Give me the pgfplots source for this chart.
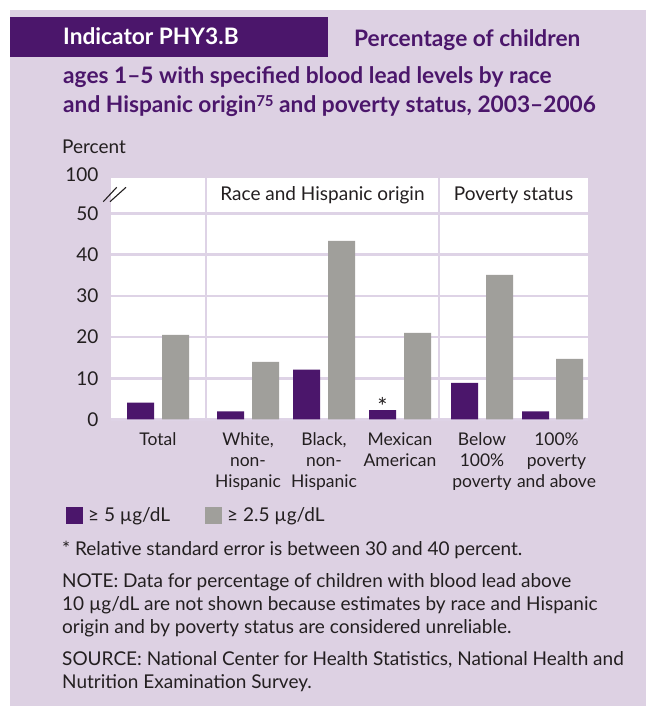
\documentclass[border=0pt]{standalone}
\usepackage{fontspec}
\setmainfont{Lato}
\usepackage{pgfplots}
\pgfplotsset{compat=1.18}

\definecolor{bg}{RGB}{221,209,227}
\definecolor{dpurple}{RGB}{75,22,107}
\definecolor{bargray}{RGB}{160,159,155}
\definecolor{gridlav}{RGB}{222,211,230}
\definecolor{txt}{RGB}{35,31,32}

\newcommand{\fs}{\fontsize{19pt}{21pt}\selectfont}
\newcommand{\fc}{\fontsize{17.5pt}{21pt}\selectfont}
\newcommand{\ft}{\bfseries\fontsize{22.7pt}{29pt}\selectfont}

\begin{document}
\begin{tikzpicture}[x=1pt,y=1pt]
\useasboundingbox (0,0) rectangle (646,706);
\fill[white] (0,0) rectangle (646,706);
\fill[bg] (10,0) rectangle (646,696);
\fill[dpurple] (10,649) rectangle (328,689);
\node[anchor=base west, inner sep=0, text=white, font=\ft] at (63,661) {Indicator PHY3.B};
\node[anchor=base west, inner sep=0, text=dpurple, font=\ft] at (354,659) {Percentage of children};
\node[anchor=base west, inner sep=0, text=dpurple, font=\ft] at (63,622) {ages 1–5 with specified blood lead levels by race};
\node[anchor=base west, inner sep=0, text=dpurple, font=\ft] at (63,593) {and Hispanic origin{\fontsize{15pt}{15pt}\selectfont\raisebox{6pt}{75}} and poverty status, 2003–2006};
\node[anchor=base west, inner sep=0, text=txt, font=\fs] at (62,552) {Percent};

\begin{axis}[
  at={(111pt,286.5pt)}, anchor=south west,
  scale only axis, width=477pt, height=241.2pt,
  xmin=111, xmax=588, ymin=0, ymax=58.5,
  axis background/.style={fill=white},
  axis line style={draw=none},
  major tick length=0pt,
  ytick={0,10,20,30,40,50},
  ymajorgrids,
  major grid style={gridlav, line width=2.6pt},
  extra y ticks={58.5}, extra y tick labels={100},
  extra y tick style={grid=none, yticklabel style={yshift=4pt}},
  yticklabel style={font=\fs, text=txt, xshift=-9pt},
  xtick={158,248,324,400,482,556.5},
  xticklabels={Total, {White,\\non-\\Hispanic}, {Black,\\non-\\Hispanic}, {Mexican\\American}, {Below\\100\%\\poverty}, {100\%\\poverty\\and above}},
  xticklabel style={align=center, font=\fc, text=txt, yshift=-10pt, inner xsep=0pt},
  extra x ticks={206,439}, extra x tick labels={,},
  extra x tick style={grid=major},
  /pgf/number format/assume math mode=true,
  clip=false,
  legend columns=2,
  legend style={at={(axis description cs:-0.1006,-0.396)}, anchor=west, draw=none, fill=none, font=\fs, text=txt,
    /tikz/every odd column/.append style={column sep=3pt},
    /tikz/every even column/.append style={column sep=33pt}},
]
\addplot[ybar, bar width=27, bar shift=0pt, fill=dpurple, draw=none,
  legend image code/.code={\fill[dpurple] (0pt,-8.5pt) rectangle (17pt,8.5pt);}]
  coordinates {(140.5,4.1) (230.5,2.0) (306.5,12.1) (382.5,2.3) (464.5,8.9) (535.5,2.0)};
\addlegendentry{≥ 5 µg/dL}
\addplot[ybar, bar width=27, bar shift=0pt, fill=bargray, draw=none,
  legend image code/.code={\fill[bargray] (0pt,-8.5pt) rectangle (17pt,8.5pt);}]
  coordinates {(175.5,20.5) (265.5,14.0) (341.5,43.3) (417.5,21.0) (499.5,35.1) (569.5,14.7)};
\addlegendentry{≥ 2.5 µg/dL}
\node[font=\fs, text=txt] at (axis cs:322.5,54.3) {Race and Hispanic origin};
\node[font=\fs, text=txt] at (axis cs:513.5,54.3) {Poverty status};
\node[font=\fontsize{24pt}{24pt}\selectfont, text=txt, anchor=south, inner sep=0pt] at (axis cs:382.5,1.0) {*};
\end{axis}

\draw[txt, line width=1.1pt] (103.3,504.3) -- (116.7,518.7);
\draw[txt, line width=1.1pt] (110,504.3) -- (126,518.7);

\node[anchor=base west, inner sep=0, text=txt, font=\fs] at (62,150) {* Relative standard error is between 30 and 40 percent.};
\node[anchor=base west, inner sep=0, text=txt, font=\fs] at (62,118) {NOTE: Data for percentage of children with blood lead above};
\node[anchor=base west, inner sep=0, text=txt, font=\fs] at (62,95) {10 µg/dL are not shown because estimates by race and Hispanic};
\node[anchor=base west, inner sep=0, text=txt, font=\fs] at (62,72) {origin and by poverty status are considered unreliable.};
\node[anchor=base west, inner sep=0, text=txt, font=\fs] at (62,40) {SOURCE: National Center for Health Statistics, National Health and};
\node[anchor=base west, inner sep=0, text=txt, font=\fs] at (62,17) {Nutrition Examination Survey.};
\end{tikzpicture}
\end{document}
